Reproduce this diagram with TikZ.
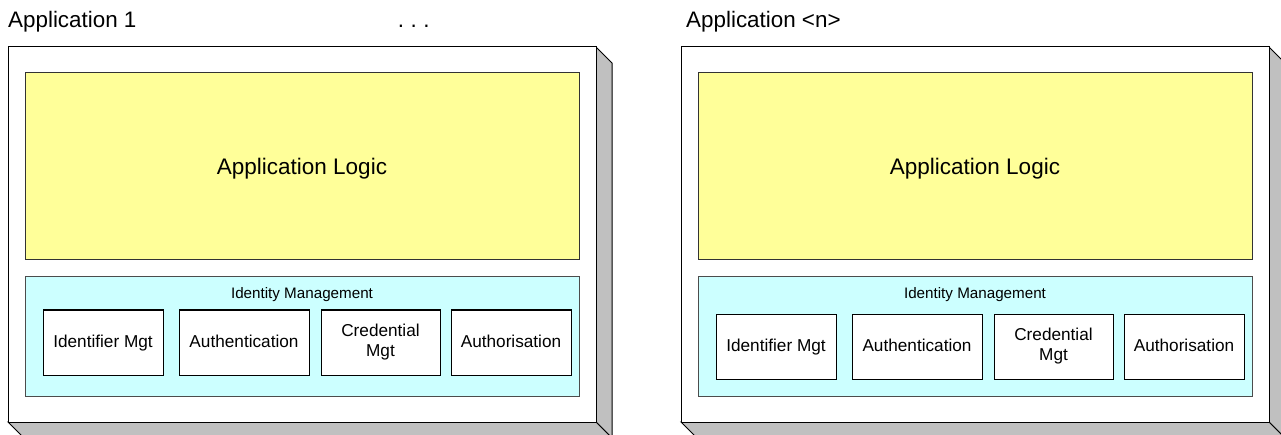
\documentclass[tikz,border=0pt]{standalone}
\usepackage{fontspec}
\setmainfont{Liberation Sans}

\definecolor{logicfill}{HTML}{FFFF99}
\definecolor{idmfill}{HTML}{CCFFFF}
\definecolor{sidefill}{HTML}{C0C0C0}

\tikzset{
  appframe/.style={draw=black, line width=1pt},
  logicbox/.style={draw=black!80, line width=1pt, fill=logicfill,
    minimum width=554, minimum height=187, inner sep=0, text depth=0,
    font=\fontsize{22.5}{27}\selectfont},
  idmbox/.style={draw=black!70, line width=1pt, fill=idmfill,
    minimum width=554, minimum height=119, inner sep=0},
  idmlabel/.style={inner sep=0, font=\fontsize{15.2}{18}\selectfont},
  part/.style={draw=black, line width=1pt, fill=white, minimum height=65,
    inner sep=0, align=center, font=\fontsize{17.2}{20}\selectfont},
  oneline/.style={text height=13.5, text depth=3},
  apptitle/.style={anchor=base west, inner sep=0,
    font=\fontsize{22.4}{27}\selectfont}
}

\begin{document}
\begin{tikzpicture}[x=1pt, y=-1pt]
    \useasboundingbox (0,0) rectangle (1281,435);
    \foreach \p/\dx/\dy/\tx/\title in {a/0/0/8/Application 1, b/673/4/686/Application <n>} {
      % box with its side and bottom faces
      \filldraw[appframe, fill=sidefill] (596+\dx,47) -- ++(16,16) -- ++(0,375)
            -- ++(-16,-16) -- cycle;
      \filldraw[appframe, fill=sidefill] (8+\dx,422) -- (596+\dx,422) -- ++(16,16)
            -- (24+\dx,438) -- cycle;
      \filldraw[appframe, fill=white] (8+\dx,47) rectangle (596+\dx,422);
      \node[apptitle] (title\p) at (\tx,28) {\title};
      \node[logicbox] (logic\p) at (302+\dx,166.5) {Application Logic};
      \node[idmbox] (idm\p) at (302+\dx,336.5) {};
      \node[idmlabel] (idmtitle\p) at (302+\dx,294.5) {Identity Management};
      \node[part, oneline, minimum width=120] (ident\p) at (103+\dx,342.5+\dy) {Identifier Mgt};
      \node[part, oneline, minimum width=130] (authn\p) at (244+\dx,342.5+\dy) {Authentication};
      \node[part, minimum width=119] (cred\p) at (380.5+\dx,342.5+\dy) {Credential\\Mgt};
      \node[part, oneline, minimum width=120] (authz\p) at (511+\dx,342.5+\dy) {Authorisation};
    }
    \node[apptitle] (dots) at (397.6,28) {.\kern6.5pt.\kern6.5pt.};
  \end{tikzpicture}
\end{document}
